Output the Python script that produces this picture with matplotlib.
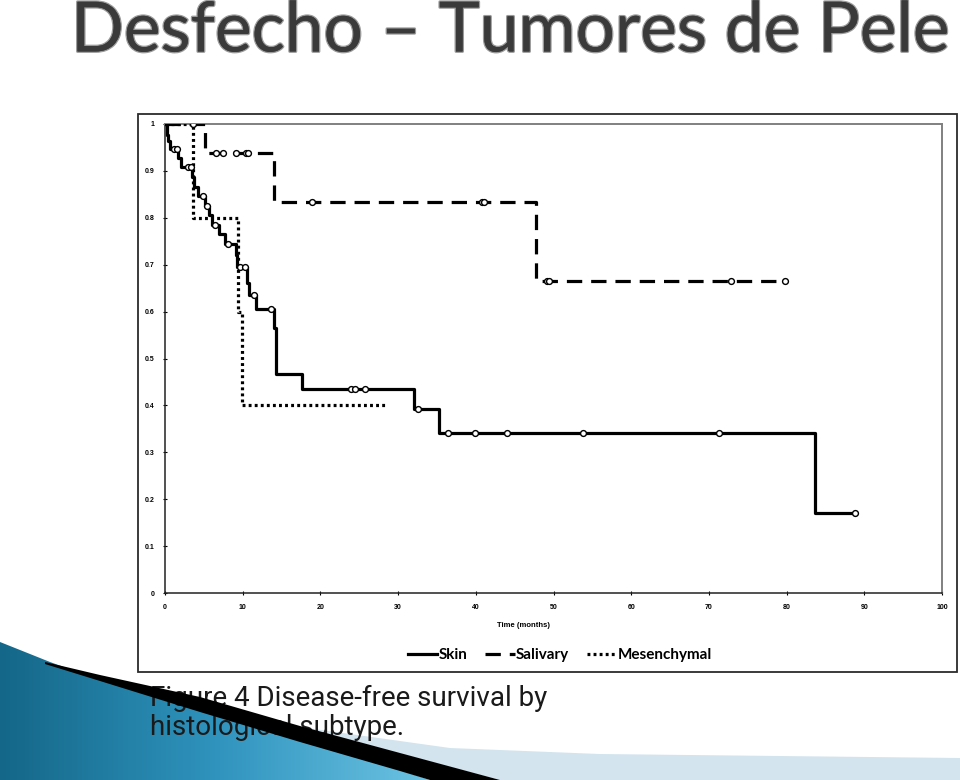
import matplotlib.pyplot as plt
import numpy as np
from matplotlib.patches import Polygon, Rectangle
from matplotlib.colors import LinearSegmentedColormap
import matplotlib.patheffects as pe

# Kaplan-Meier curves: step times (months) and survival after each step
skin_t = [0, 0.2, 0.4, 0.65, 1.7, 2.1, 3.45, 3.7, 4.3, 5.2, 5.7, 6.0, 6.9, 7.7,
          9.1, 9.25, 10.6, 10.75, 11.7, 14.0, 14.3, 17.6, 32.0, 35.2, 83.7]
skin_s = [1.0, 0.977, 0.963, 0.947, 0.927, 0.908, 0.886, 0.866, 0.846, 0.825, 0.805, 0.785, 0.765, 0.745,
          0.72, 0.696, 0.66, 0.635, 0.605, 0.565, 0.468, 0.434, 0.392, 0.342, 0.171]
skin_end = 88.8
skin_cens = [1.1, 1.5, 3.0, 3.3, 4.9, 5.45, 6.4, 8.15, 9.65, 10.3, 11.4, 13.7,
             24.0, 24.4, 25.7, 32.5, 36.4, 39.9, 44.0, 53.8, 71.3, 88.8]

saliv_t = [0, 5.1, 14.0, 47.7]
saliv_s = [1.0, 0.9375, 0.833, 0.666]
saliv_end = 79.8
saliv_cens = [3.65, 6.5, 7.5, 9.2, 10.4, 10.7, 18.9, 40.8, 41.1, 49.1, 49.4, 72.8, 79.8]

mesen_t = [0, 3.65, 9.4, 9.9]
mesen_s = [1.0, 0.8, 0.6, 0.4]
mesen_end = 28.3

xticks = [0, 10, 20, 30, 40, 50, 60, 70, 80, 90, 100]
yticks = [0, 0.1, 0.2, 0.3, 0.4, 0.5, 0.6, 0.7, 0.8, 0.9, 1]
ytick_labels = ['0', '0.1', '0.2', '0.3', '0.4', '0.5', '0.6', '0.7', '0.8', '0.9', '1']


def km_xy(t, s, end):
    return list(t) + [end], list(s) + [s[-1]]


def cens_y(t, s, ct):
    idx = np.searchsorted(np.array(t), np.array(ct), side='right') - 1
    return np.array(s)[idx]


fig = plt.figure(figsize=(9.6, 7.8), dpi=100)
W, H = 960, 780

# background layer (slide) in pixel coords
deco = fig.add_axes([0, 0, 1, 1], zorder=0)
deco.axis('off')

deco.add_patch(Rectangle((138, 114), 819, 558, facecolor='white', edgecolor='#2b2b2b', lw=1.3))

deco.text(510, 32, 'Desfecho \u2013 Tumores de Pele', family='Lato', fontsize=50, color='#3a3a3a',
          ha='center', va='center',
          path_effects=[pe.withStroke(linewidth=2, foreground='#9a9a9a'), pe.Normal()])

# swoosh decoration: blue and pale bands under the caption, black wedge over it
blue_pts = [(0, 642), (50, 662), (100, 680), (200, 710), (300, 740), (400, 770), (430, 780), (0, 780)]
blue = Polygon(blue_pts, closed=True, facecolor='none', edgecolor='none', zorder=1)
deco.add_patch(blue)
cmap = LinearSegmentedColormap.from_list('sw', ['#146788', '#2f93bd', '#6cc3e3'])
grad = np.tile(np.linspace(0, 1, 256), (20, 1))
im = deco.imshow(grad, cmap=cmap, extent=[0, 430, 780, 640], aspect='auto', zorder=1)
im.set_clip_path(blue)

pale_pts = [(300, 727), (450, 748), (600, 754), (960, 758), (960, 780), (500, 780), (450, 767), (350, 740)]
deco.add_patch(Polygon(pale_pts, closed=True, facecolor='#d3e4ee', edgecolor='none', zorder=1))

deco.text(150, 685, 'Figure 4 Disease-free survival by\nhistological subtype.', family='Roboto',
          fontsize=20, color='#1a1a1a', ha='left', va='top', linespacing=1.1, zorder=2)

black_pts = [(45, 662), (100, 675), (200, 697), (300, 726), (400, 753), (500, 780),
             (430, 780), (400, 771), (300, 742), (200, 712), (100, 681), (45, 664)]
deco.add_patch(Polygon(black_pts, closed=True, facecolor='black', edgecolor='none', zorder=4))
deco.set_xlim(0, W)
deco.set_ylim(H, 0)

# chart
ax = fig.add_axes([165 / W, 1 - 593 / H, (942 - 165) / W, (593 - 124) / H], zorder=2)
ax.set_xlim(0, 100)
ax.set_ylim(0, 1)

lw = 2.3
x, y = km_xy(skin_t, skin_s, skin_end)
ax.step(x, y, where='post', color='black', lw=lw, label='Skin', zorder=4)
x, y = km_xy(saliv_t, saliv_s, saliv_end)
ax.step(x, y, where='post', color='black', lw=lw, linestyle=(0, (4.8, 2.8)), label='Salivary', zorder=3)
x, y = km_xy(mesen_t, mesen_s, mesen_end)
ax.step(x, y, where='post', color='black', lw=lw, linestyle=(0, (0.9, 1.0)), label='Mesenchymal', zorder=3)

mk = dict(marker='o', ms=4.2, mfc='white', mec='black', mew=1.0, ls='none', zorder=5)
ax.plot(skin_cens, cens_y(skin_t, skin_s, skin_cens), **mk)
ax.plot(saliv_cens, cens_y(saliv_t, saliv_s, saliv_cens), **mk)

ax.set_xticks(xticks)
ax.set_yticks(yticks)
ax.set_yticklabels(ytick_labels)
ax.tick_params(direction='inout', length=3.5, width=0.8, labelsize=5, pad=6)
for lab in ax.get_xticklabels() + ax.get_yticklabels():
    lab.set_fontweight('bold')
    lab.set_family('Liberation Sans')

for side in ['left', 'bottom']:
    ax.spines[side].set_color('#222222')
    ax.spines[side].set_linewidth(1.1)
for side in ['top', 'right']:
    ax.spines[side].set_color('#808080')
    ax.spines[side].set_linewidth(1.4)

ax.set_xlabel('Time (months)', fontsize=5.5, fontweight='bold', family='Liberation Sans', labelpad=8)
ax.xaxis.set_label_coords(0.462, -0.062)

leg = fig.legend(loc='center', bbox_to_anchor=(560 / W, 1 - 655 / H), ncol=3, frameon=False,
                 prop={'family': 'Lato', 'weight': 'bold', 'size': 11},
                 handlelength=1.9, handletextpad=0.1, columnspacing=1.2)

fig.savefig('out.png', dpi=100)
